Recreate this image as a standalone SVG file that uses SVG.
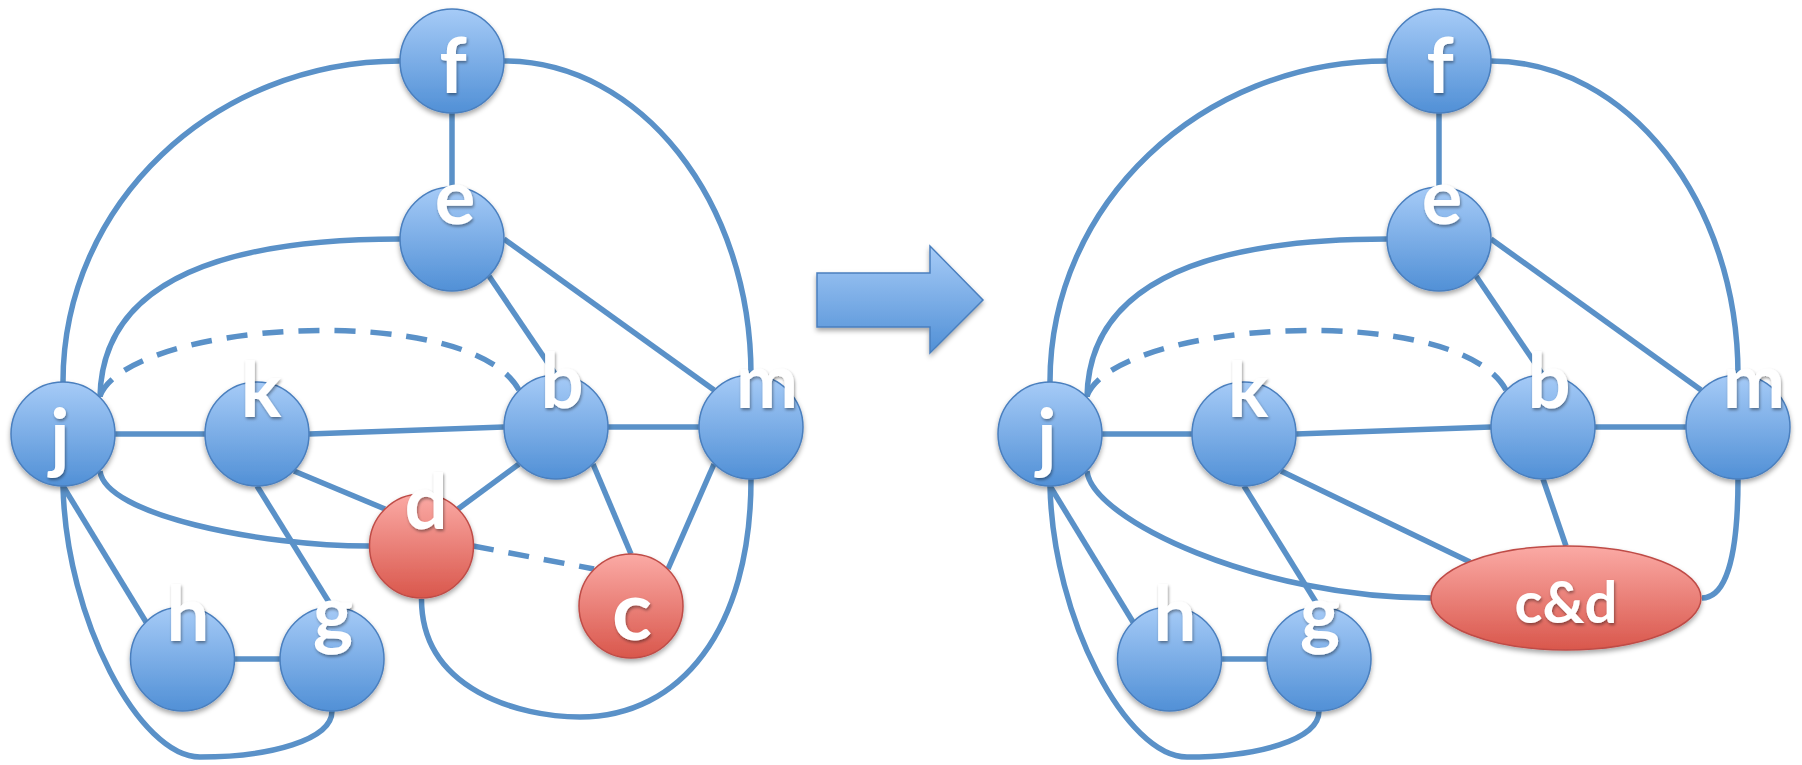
<svg xmlns="http://www.w3.org/2000/svg" width="1802" height="765" viewBox="0 0 1802 765">
  <defs>
    <linearGradient id="blueFill" x1="0" y1="0" x2="0" y2="1">
      <stop offset="0" stop-color="#a6cbf7"/>
      <stop offset="1" stop-color="#5190d6"/>
    </linearGradient>
    <linearGradient id="redFill" x1="0" y1="0" x2="0" y2="1">
      <stop offset="0" stop-color="#fbaaa5"/>
      <stop offset="1" stop-color="#d9574c"/>
    </linearGradient>
    <filter id="shadow" x="-20%" y="-20%" width="140%" height="150%">
      <feDropShadow dx="0" dy="3" stdDeviation="2.5" flood-color="#000" flood-opacity="0.35"/>
    </filter>
    <filter id="textShadow" x="-30%" y="-30%" width="160%" height="160%">
      <feDropShadow dx="1" dy="2" stdDeviation="1.8" flood-color="#000" flood-opacity="0.4"/>
    </filter>
  </defs>
  <style>
    .edge { fill: none; stroke: #5a91c8; stroke-width: 5.5; stroke-linecap: butt; }
    .dash { stroke-dasharray: 21 15; }
    .blue { fill: url(#blueFill); stroke: #4a7fbe; stroke-width: 1.5; filter: url(#shadow); }
    .red { fill: url(#redFill); stroke: #bf4c47; stroke-width: 1.5; filter: url(#shadow); }
    .lbl { font-family: Lato, "Open Sans", "Liberation Sans", sans-serif; font-weight: bold; font-size: 76px; fill: #ffffff; text-anchor: middle; filter: url(#textShadow); }
  </style>

  <rect width="1802" height="765" fill="#ffffff"/>

  <!-- edges -->
  <g id="connectors">
    <!-- left graph -->
    <path class="edge" d="M452 113 L452 187"/>
    <path class="edge" d="M400 61 C214 61 63 204 63 382"/>
    <path class="edge" d="M504 61 C640 61 751 201 751 375"/>
    <path class="edge" d="M400 239 C220 239 102 282 100 397"/>
    <path class="edge" d="M489 276 L556 375"/>
    <path class="edge" d="M504 239 L714 390"/>
    <path class="edge" d="M115 434 L205 434"/>
    <path class="edge" d="M309 434 L504 427"/>
    <path class="edge" d="M608 427 L699 427"/>
    <path class="edge dash" d="M100 396 C130 320 470 300 519 390"/>
    <path class="edge" d="M100 471 C105 515 260 546 369 546"/>
    <path class="edge" d="M294 471 L385 509"/>
    <path class="edge" d="M257 486 L332 607"/>
    <path class="edge" d="M519 464 L458 509"/>
    <path class="edge" d="M593 464 L631 554"/>
    <path class="edge" d="M714 464 L668 569"/>
    <path class="edge dash" d="M473 546 L594 569"/>
    <path class="edge" d="M421.5 599 C421.5 690 520 717 580 717 C680 717 751 630 751 479"/>
    <path class="edge" d="M63 486 L146 622"/>
    <path class="edge" d="M235 659 L280 659"/>
    <path class="edge" d="M63 486 C66 620 140 757 200 757 C270 757 332 740 332 711"/>

    <!-- right graph -->
    <path class="edge" d="M1439 113 L1439 187"/>
    <path class="edge" d="M1387 61 C1201 61 1050 204 1050 382"/>
    <path class="edge" d="M1491 61 C1627 61 1738 201 1738 375"/>
    <path class="edge" d="M1387 239 C1207 239 1089 282 1087 397"/>
    <path class="edge" d="M1476 276 L1543 375"/>
    <path class="edge" d="M1491 239 L1701 390"/>
    <path class="edge" d="M1102 434 L1192 434"/>
    <path class="edge" d="M1296 434 L1491 427"/>
    <path class="edge" d="M1595 427 L1686 427"/>
    <path class="edge dash" d="M1087 396 C1117 320 1457 300 1506 390"/>
    <path class="edge" d="M1087 471 C1092 520 1260 598 1431 598"/>
    <path class="edge" d="M1281 471 L1470 562"/>
    <path class="edge" d="M1244 486 L1319 607"/>
    <path class="edge" d="M1543 479 L1566 546"/>
    <path class="edge" d="M1738 479 C1738 560 1725 598 1702 598"/>
    <path class="edge" d="M1050 486 L1133 622"/>
    <path class="edge" d="M1222 659 L1267 659"/>
    <path class="edge" d="M1050 486 C1053 620 1127 757 1187 757 C1257 757 1319 740 1319 711"/>
  </g>

  <!-- left graph nodes -->
  <g id="node-f"><circle class="blue" cx="452" cy="61" r="52"/><text class="lbl" x="453" y="93">f</text></g>
  <g id="node-e"><circle class="blue" cx="452" cy="239" r="52"/><text class="lbl" x="455" y="224">e</text></g>
  <g id="node-j"><circle class="blue" cx="63" cy="434" r="52"/><text class="lbl" x="60" y="464">j</text></g>
  <g id="node-k"><circle class="blue" cx="257" cy="434" r="52"/><text class="lbl" x="261" y="417">k</text></g>
  <g id="node-b"><circle class="blue" cx="556" cy="427" r="52"/><text class="lbl" x="562" y="408">b</text></g>
  <g id="node-m"><circle class="blue" cx="751" cy="427" r="52"/><text class="lbl" x="767" y="408" textLength="62" lengthAdjust="spacingAndGlyphs">m</text></g>
  <g id="node-d"><circle class="red" cx="421.5" cy="546" r="52"/><text class="lbl" x="426" y="529">d</text></g>
  <g id="node-c"><circle class="red" cx="631" cy="606" r="52"/><text class="lbl" x="632" y="640" style="font-size:83px">c</text></g>
  <g id="node-h"><circle class="blue" cx="182.5" cy="659" r="52"/><text class="lbl" x="188" y="641">h</text></g>
  <g id="node-g"><circle class="blue" cx="332" cy="659" r="52"/><text class="lbl" x="333" y="640">g</text></g>

  <!-- transformation arrow -->
  <g id="arrow">
    <polygon points="817,273 930,273 930,246 983,300 930,353 930,327 817,327" fill="url(#blueFill)" stroke="#4a7fbe" stroke-width="1.5" filter="url(#shadow)"/>
  </g>

  <!-- right graph nodes -->
  <g id="node-f2"><circle class="blue" cx="1439" cy="61" r="52"/><text class="lbl" x="1440" y="93">f</text></g>
  <g id="node-e2"><circle class="blue" cx="1439" cy="239" r="52"/><text class="lbl" x="1442" y="224">e</text></g>
  <g id="node-j2"><circle class="blue" cx="1050" cy="434" r="52"/><text class="lbl" x="1047" y="464">j</text></g>
  <g id="node-k2"><circle class="blue" cx="1244" cy="434" r="52"/><text class="lbl" x="1248" y="417">k</text></g>
  <g id="node-b2"><circle class="blue" cx="1543" cy="427" r="52"/><text class="lbl" x="1549" y="408">b</text></g>
  <g id="node-m2"><circle class="blue" cx="1738" cy="427" r="52"/><text class="lbl" x="1754" y="408" textLength="62" lengthAdjust="spacingAndGlyphs">m</text></g>
  <g id="node-h2"><circle class="blue" cx="1169.5" cy="659" r="52"/><text class="lbl" x="1175" y="641">h</text></g>
  <g id="node-g2"><circle class="blue" cx="1319" cy="659" r="52"/><text class="lbl" x="1320" y="640">g</text></g>
  <g id="node-cd"><ellipse class="red" cx="1566" cy="598" rx="135" ry="52"/><text class="lbl" x="1566" y="623" style="font-size:58px">c&amp;d</text></g>
</svg>
